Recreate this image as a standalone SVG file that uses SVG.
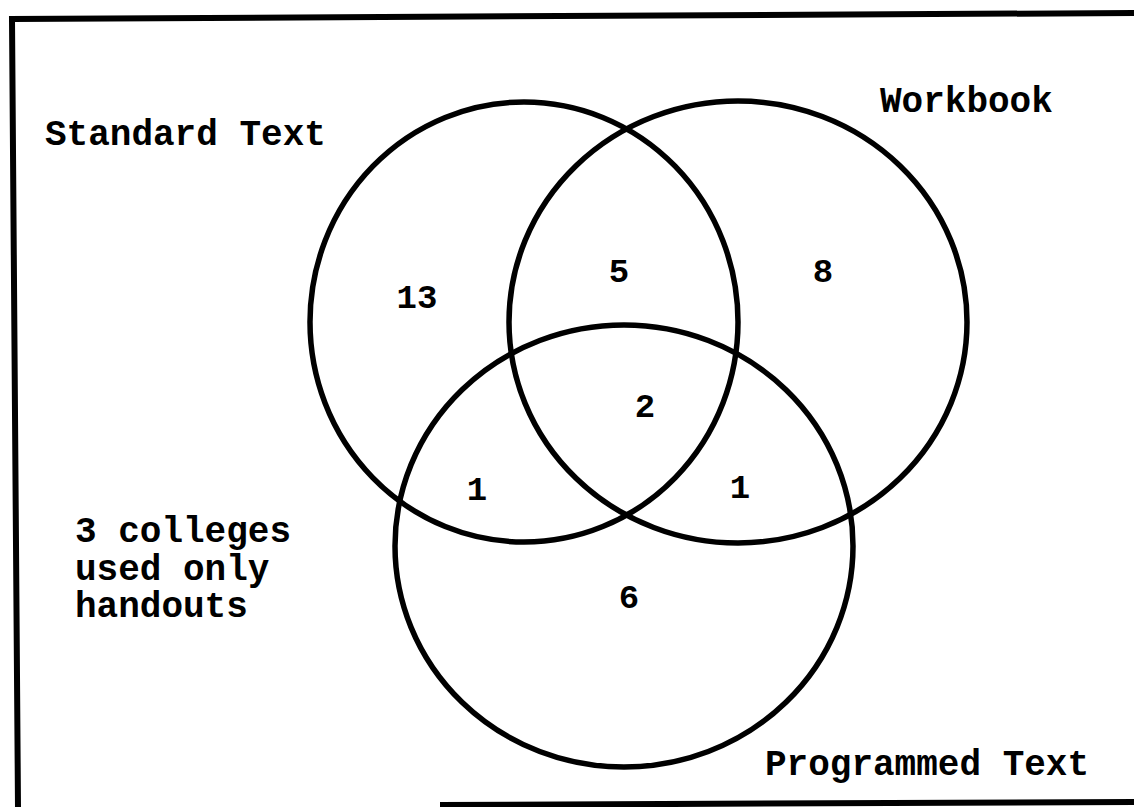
<svg xmlns="http://www.w3.org/2000/svg" width="1134" height="807" viewBox="0 0 1134 807">
<style>
.ring{fill:none;stroke:#000;stroke-width:5.5}
.frame{fill:none;stroke:#000;stroke-width:6}
.lbl{font-family:"Liberation Mono","Courier New",monospace;font-size:36px;font-weight:bold;fill:#000}
.num{font-family:"Liberation Mono","Courier New",monospace;font-size:34px;font-weight:bold;fill:#000;text-anchor:middle}
</style>
<rect width="1134" height="807" fill="#fff"/>
<g id="frame">
<path class="frame" d="M1134,13 L12,19 L18,807"/>
<path class="frame" d="M440,805 L1134,802"/>
</g>
<g id="standard-text">
<ellipse class="ring" cx="524" cy="322" rx="214" ry="220"/>
<text class="lbl" x="45" y="145">Standard Text</text>
</g>
<g id="workbook">
<ellipse class="ring" cx="738" cy="322" rx="229" ry="221"/>
<text class="lbl" x="880" y="112">Workbook</text>
</g>
<g id="programmed-text">
<ellipse class="ring" cx="624" cy="546" rx="229" ry="221"/>
<text class="lbl" x="765" y="775">Programmed Text</text>
</g>
<g id="handouts">
<text class="lbl" x="75" y="542">3 colleges</text>
<text class="lbl" x="75" y="580">used only</text>
<text class="lbl" x="75" y="617">handouts</text>
</g>
<g id="counts">
<text class="num" x="417" y="308">13</text>
<text class="num" x="619" y="282">5</text>
<text class="num" x="823" y="282">8</text>
<text class="num" x="645" y="417">2</text>
<text class="num" x="477" y="500">1</text>
<text class="num" x="740" y="498">1</text>
<text class="num" x="629" y="608">6</text>
</g>
<g id="connectors"></g>
</svg>
